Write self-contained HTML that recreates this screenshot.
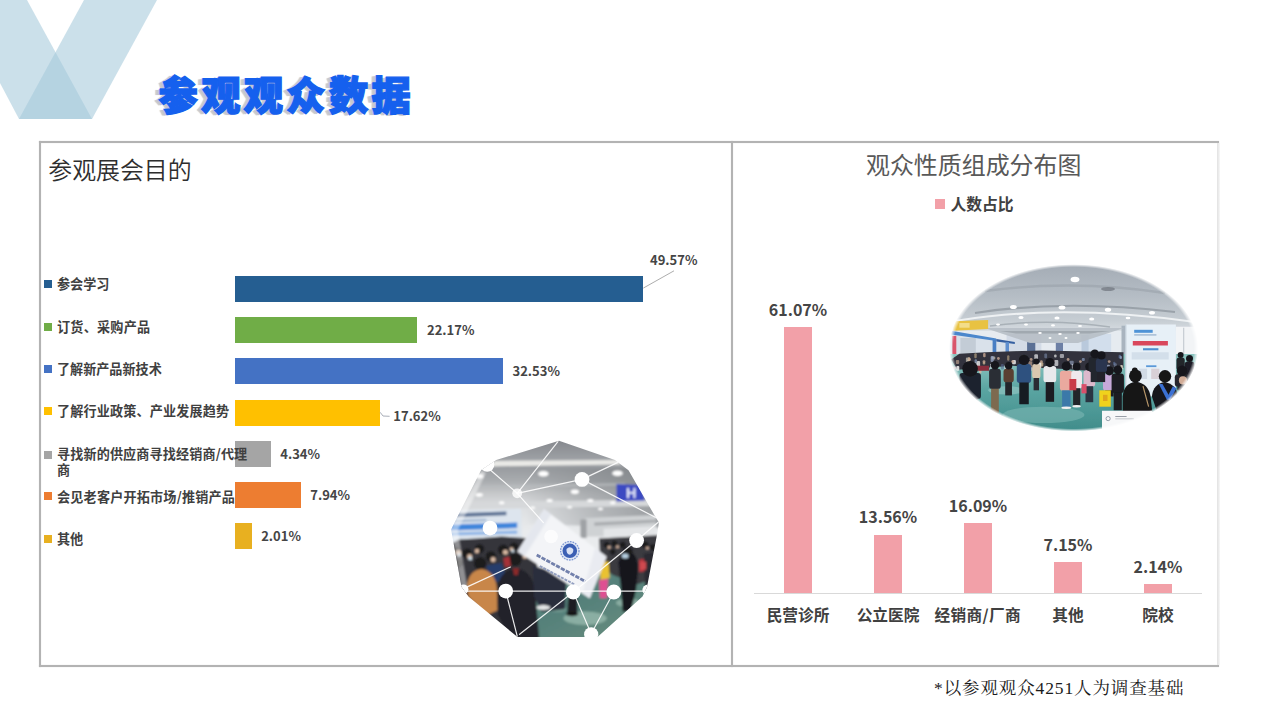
<!DOCTYPE html>
<html lang="zh-CN">
<head>
<meta charset="utf-8">
<title>参观观众数据</title>
<style>
*{box-sizing:border-box;margin:0;padding:0}
html,body{width:1267px;height:713px;overflow:hidden;background:#fff}
body{position:relative;font-family:"Liberation Sans","Noto Sans CJK SC",sans-serif;color:#404040}
.abs{position:absolute}
#deco{position:absolute;left:0;top:0}
#title{position:absolute;left:158.6px;top:63.4px;font-family:"Noto Sans CJK SC","Liberation Sans",sans-serif;font-weight:900;font-size:39.4px;line-height:60px;letter-spacing:3.2px;color:#1560ee;white-space:nowrap;-webkit-text-stroke:1.3px #1560ee;
 text-shadow:-1.5px 0 0 #a9c0ee,-3px .5px 0 #c3c6cc,-4.5px .5px 0 #cbcccf,-5px 1px 1px #d6d7da}
.ln{position:absolute;background:#b3b3b3;box-shadow:0 0 .8px #b3b3b3}

#ltitle{position:absolute;left:48.3px;top:152.2px;font-family:"Noto Sans CJK SC","Liberation Sans",sans-serif;font-weight:350;font-size:23.9px;line-height:34px;color:#2e2e2e;white-space:nowrap}
.bar{position:absolute;left:235.3px;height:26px}
.lg{position:absolute;left:44px;width:8px;height:8px}
.lt{position:absolute;left:57px;font-family:"Noto Sans CJK SC","Liberation Sans",sans-serif;font-weight:700;font-size:13.1px;line-height:17px;color:#404040;white-space:nowrap}
.lv{position:absolute;font-family:"Noto Sans CJK SC","Liberation Sans",sans-serif;font-weight:700;font-size:13px;line-height:18px;color:#454545;white-space:nowrap}
#rtitle{position:absolute;left:866px;top:147.2px;font-family:"Noto Sans CJK SC","Liberation Sans",sans-serif;font-weight:400;font-size:23.95px;line-height:34px;color:#595959;white-space:nowrap}
#rlg{position:absolute;left:934.9px;top:199.4px;width:10px;height:10px;background:#f2a0a8}
#rlt{position:absolute;left:950.4px;top:193.4px;font-family:"Noto Sans CJK SC","Liberation Sans",sans-serif;font-weight:700;font-size:15.8px;line-height:22px;color:#404040;white-space:nowrap}
.vb{position:absolute;width:28px;background:#f2a0a8}
.vv{position:absolute;width:90px;text-align:center;font-family:"Noto Sans CJK SC","Liberation Sans",sans-serif;font-weight:700;font-size:16px;line-height:20px;color:#454545;white-space:nowrap}
.vc{position:absolute;width:110px;text-align:center;top:604px;font-family:"Noto Sans CJK SC","Liberation Sans",sans-serif;font-weight:700;font-size:15.7px;line-height:22px;color:#404040;white-space:nowrap}
#axis{position:absolute;left:754px;top:593px;width:448px;height:1px;background:#d9d9d9}
#foot{position:absolute;left:934px;top:676px;font-family:"Liberation Serif","Noto Serif CJK SC",serif;font-size:17.5px;line-height:24px;color:#1a1a1a;white-space:nowrap;letter-spacing:.88px}
</style>
</head>
<body>
<svg id="deco" width="220" height="130" viewBox="0 0 220 130">
  <polygon points="-44,0 27,0 92,119 19,119" fill="#a6c9da" fill-opacity=".58"/>
  <polygon points="84,0 157,0 92,119 19,119" fill="#a6c9da" fill-opacity=".58"/>
</svg>
<div id="title">参观观众数据</div>
<div class="ln" style="left:38.7px;top:140.7px;width:1180px;height:2.1px"></div>
<div class="ln" style="left:38.7px;top:664.5px;width:1180px;height:2.1px"></div>
<div class="ln" style="left:38.7px;top:140.7px;width:2.1px;height:526px"></div>
<div class="ln" style="left:730.5px;top:140.7px;width:2.2px;height:526px"></div>
<div class="abs" style="left:1217.3px;top:143px;width:3px;height:521.5px;background:linear-gradient(90deg,#e2e2e2,#ececec 55%,#f8f8f8)"></div>
<div id="ltitle">参观展会目的</div>

<!-- left chart bars -->
<div class="bar" style="top:275.6px;width:407.5px;background:#255e91"></div>
<div class="bar" style="top:317.1px;width:182.2px;background:#70ad47"></div>
<div class="bar" style="top:358.4px;width:267.4px;background:#4472c4"></div>
<div class="bar" style="top:399.8px;width:144.8px;background:#ffc000"></div>
<div class="bar" style="top:440.6px;width:35.7px;background:#a5a5a5"></div>
<div class="bar" style="top:482px;width:65.3px;background:#ed7d31"></div>
<div class="bar" style="top:523.2px;width:16.5px;background:#e8b020"></div>

<div class="lg" style="top:280.1px;background:#255e91"></div><div class="lt" style="top:275px">参会学习</div>
<div class="lg" style="top:322.7px;background:#70ad47"></div><div class="lt" style="top:317.6px;letter-spacing:.25px">订货、采购产品</div>
<div class="lg" style="top:364.6px;background:#4472c4"></div><div class="lt" style="top:360px">了解新产品新技术</div>
<div class="lg" style="top:407.2px;background:#ffc000"></div><div class="lt" style="top:402.4px;letter-spacing:.15px">了解行业政策、产业发展趋势</div>
<div class="lg" style="top:450.8px;background:#a5a5a5"></div><div class="lt" style="top:445.6px;white-space:normal;width:194px;line-height:16px;letter-spacing:.13px">寻找新的供应商寻找经销商/代理商</div>
<div class="lg" style="top:492.2px;background:#ed7d31"></div><div class="lt" style="top:488px;letter-spacing:.2px">会见老客户开拓市场/推销产品</div>
<div class="lg" style="top:535.2px;background:#e8b020"></div><div class="lt" style="top:530px">其他</div>

<div class="lv" style="left:650px;top:251px">49.57%</div>
<div class="lv" style="left:427px;top:321.3px">22.17%</div>
<div class="lv" style="left:512.5px;top:361.5px">32.53%</div>
<div class="lv" style="left:393.3px;top:407.3px">17.62%</div>
<div class="lv" style="left:280.3px;top:445px">4.34%</div>
<div class="lv" style="left:310.3px;top:486px">7.94%</div>
<div class="lv" style="left:261.2px;top:527.3px">2.01%</div>
<svg class="abs" style="left:370px;top:260px" width="320" height="170" viewBox="370 260 320 170">
  <line x1="643.3" y1="288.1" x2="674" y2="270.8" stroke="#adadad" stroke-width="1"/>
  <path d="M380.2 412.3 L383 416 L389.6 416.3" fill="none" stroke="#a9aeb8" stroke-width="1"/>
</svg>


<!-- polygon network photo -->
<svg class="abs" style="left:440px;top:430px" width="230" height="215" viewBox="440 430 230 215">
<defs>
<clipPath id="polyclip"><polygon points="559,440.8 614.9,460 628.5,470.3 654.2,514.8 658.9,522.6 657.7,531 647,587 642.5,596.5 597.5,637 517.5,637 468.7,596.7 461.5,586.8 451.1,529.4 481.2,470 496.2,460.1"/></clipPath>
<linearGradient id="ceil1" gradientUnits="userSpaceOnUse" x1="0" y1="440" x2="0" y2="532">
<stop offset="0" stop-color="#85888d"/><stop offset=".22" stop-color="#9fa2a6"/><stop offset=".3" stop-color="#999ca0"/><stop offset=".45" stop-color="#a9acaf"/><stop offset=".58" stop-color="#c6c8ca"/><stop offset=".72" stop-color="#dcdee0"/><stop offset="1" stop-color="#e9ebed"/>
</linearGradient>
<linearGradient id="rdark" gradientUnits="userSpaceOnUse" x1="525" y1="0" x2="650" y2="0"><stop offset="0" stop-color="#7d8185" stop-opacity="0"/><stop offset=".55" stop-color="#7d8185" stop-opacity=".42"/><stop offset="1" stop-color="#74787c" stop-opacity=".62"/></linearGradient>
<linearGradient id="floor1" x1="0" y1="0" x2="1" y2="1"><stop offset="0" stop-color="#7fa096"/><stop offset=".45" stop-color="#54807a"/><stop offset="1" stop-color="#6f917f"/></linearGradient>
<filter id="blur1" x="-5%" y="-5%" width="110%" height="110%"><feGaussianBlur stdDeviation="0.9"/></filter>
</defs>
<g clip-path="url(#polyclip)"><g filter="url(#blur1)">
<rect x="440" y="430" width="230" height="215" fill="url(#ceil1)"/>
<polygon points="520,468 670,468 670,528 520,524" fill="url(#rdark)"/>
<polygon points="494,460.9 617.5,459.9 620.6,464.6 492.5,466.4" fill="#e9e9e6" />
<polygon points="458.5,502.5 656,499.4 656,505.9 455.4,509" fill="#d6d8da" />
<polygon points="470.9,485.6 625.2,483.1 625.2,485.6 470.9,488.6" fill="#b9bcbf" opacity=".7"/>
<ellipse cx="543.4" cy="473.8" rx="5.2" ry="2.8" fill="#ffffff" />
<ellipse cx="617.5" cy="473.2" rx="5.2" ry="2.8" fill="#ffffff" />
<ellipse cx="479.5" cy="476.3" rx="3.7" ry="2.2" fill="#ffffff" />
<ellipse cx="574.9" cy="491.7" rx="4" ry="2.2" fill="#ffffff" />
<ellipse cx="479.2" cy="494.8" rx="3.7" ry="1.9" fill="#ffffff" />
<ellipse cx="549.6" cy="500.4" rx="3.1" ry="1.5" fill="#ffffff" />
<ellipse cx="590.3" cy="500.4" rx="3.1" ry="1.5" fill="#ffffff" />
<ellipse cx="501.7" cy="502.8" rx="2.8" ry="1.5" fill="#ffffff" />
<ellipse cx="612.8" cy="502.8" rx="2.8" ry="1.5" fill="#ffffff" />
<ellipse cx="569.6" cy="507.2" rx="2.5" ry="1.2" fill="#ffffff" />
<ellipse cx="532.6" cy="507.8" rx="2.5" ry="1.2" fill="#ffffff" />
<ellipse cx="600.5" cy="509" rx="2.5" ry="1.2" fill="#ffffff" />
<polygon points="616.5,484 641.2,484.9 644.9,500.4 616.5,501.6" fill="#3a49c2" />
<text x="631.3" y="498" text-anchor="middle" font-family="'Liberation Sans',sans-serif" font-weight="700" font-size="14.5" fill="#e4e8fa">H</text>
<polygon points="585.1,518 656,514.9 656,536.5 585.1,536.5" fill="#cfd2d4" />
<polygon points="594.3,522.6 656,519.5 656,522.6 594.3,525.7" fill="#a9acaf" />
<polygon points="580.4,519.5 586.6,519.5 586.6,538 580.4,538" fill="#9fa2a5" />
<polygon points="603.6,528.8 656,526.3 656,537.4 603.6,537.4" fill="#e4e6e8" />
<polygon points="449.3,510.9 520.9,508.7 522.1,538.6 449.3,541.7" fill="#dde5ee" />
<polygon points="454.8,513.3 506.4,511.5 506.4,515.2 454.8,517.3" fill="#5d7395" />
<polygon points="452.3,520.1 486.3,518.9 486.3,521 452.3,522.6" fill="#9db4d0" />
<polygon points="451.1,524.4 517.2,522.6 517.2,528.1 451.1,530.6" fill="#3f86dc" />
<polygon points="451.1,532.5 517.2,530.6 517.2,533.7 451.1,535.6" fill="#8bb4e6" />
<polygon points="514.1,578.1 662.2,565.8 662.2,646 501.7,646" fill="url(#floor1)" />
<ellipse cx="585.1" cy="618.3" rx="21.6" ry="6.8" fill="#a4c4b8" opacity=".65"/>
<ellipse cx="628.3" cy="602.8" rx="12.3" ry="4.3" fill="#a9c7ba" opacity=".6"/>
<ellipse cx="557.3" cy="609" rx="9.3" ry="3.1" fill="#8fb3a8" opacity=".5"/>
<polygon points="449.3,544.8 458.5,539.6 477,538.6 501.7,536.5 532.6,538.6 538.8,575.1 532.6,615.2 517.2,639.9 467.8,602.8 449.3,590.5" fill="#34343a" />
<circle cx="456" cy="551" r="4.6" fill="#1b1a1d" />
<circle cx="467.2" cy="553.5" r="4.9" fill="#1b1a1d" />
<circle cx="479.5" cy="548.8" r="4.6" fill="#1b1a1d" />
<circle cx="490.9" cy="556.5" r="5.2" fill="#1b1a1d" />
<circle cx="503.3" cy="549.8" r="5.2" fill="#1b1a1d" />
<circle cx="514.1" cy="546.7" r="4.3" fill="#1b1a1d" />
<circle cx="480.1" cy="563.3" r="6.2" fill="#1b1a1d" />
<circle cx="515" cy="559.6" r="6.5" fill="#1b1a1d" />
<circle cx="528" cy="553.5" r="4.3" fill="#1b1a1d" />
<circle cx="459.1" cy="563.3" r="4.3" fill="#1b1a1d" />
<circle cx="458.5" cy="552.8" r="2.5" fill="#d9b9a2" />
<circle cx="469.6" cy="556.5" r="2.5" fill="#d9b9a2" />
<circle cx="493.1" cy="559.6" r="2.5" fill="#d9b9a2" />
<circle cx="505.4" cy="552.2" r="2.5" fill="#d9b9a2" />
<circle cx="477" cy="551" r="2.2" fill="#d9b9a2" />
<circle cx="524.9" cy="556.5" r="2.2" fill="#d9b9a2" />
<circle cx="511.6" cy="549.1" r="1.9" fill="#d9b9a2" />
<circle cx="470.2" cy="558.4" r="1.9" fill="#cfe0ea" />
<circle cx="459.1" cy="554.7" r="1.5" fill="#cfe0ea" />
<circle cx="512.8" cy="551" r="1.5" fill="#cfe0ea" />
<polygon points="486.3,565.8 501.7,562.7 506.4,578.1 490.9,584.3" fill="#283e6c" />
<polygon points="503.3,558.1 509.4,556.5 511,565.8 504.8,567.3" fill="#a53038" />
<path d="M467.2 584.3 Q469.3 570.4 481.7 568.9 Q494.9 571.4 496.8 587.4 L497.4 610.6 L486.3 615.2 L468.4 596.7 Z" fill="#c88648"/>
<path d="M497.4 587.4 Q500.2 570.4 515.6 568.3 Q532 570.7 535.1 590.5 L539.4 639.9 L511 639.9 L498 615.2 Z" fill="#222329"/>
<polygon points="512.8,568.3 519,568.3 517.8,575.1 514.1,575.1" fill="#8d2b2b" />
<polygon points="532.6,565.8 566.5,575.1 565,609 541.9,612.1 534.1,596.7" fill="#2a2f3e" />
<ellipse cx="543.4" cy="607.5" rx="6.8" ry="2.5" fill="#e4e6e6" />
<polygon points="568.1,596.7 577.3,596.7 577.3,613.6 567.2,613.6" fill="#1c1d22" />
<ellipse cx="572.1" cy="614" rx="6.2" ry="2.2" fill="#141417" />
<polygon points="599,538.6 662.2,534.9 662.2,575.1 637.5,584.3 612.8,575.1 600.5,565.8" fill="#3a3a41" />
<circle cx="606.7" cy="544.8" r="3.1" fill="#1c1b1f" />
<circle cx="614.4" cy="543.6" r="3.1" fill="#1c1b1f" />
<circle cx="622.7" cy="544.8" r="3.1" fill="#1c1b1f" />
<circle cx="645.2" cy="544.8" r="3.4" fill="#1c1b1f" />
<circle cx="653" cy="547.3" r="3.4" fill="#1c1b1f" />
<circle cx="612.8" cy="551.9" r="2.8" fill="#1c1b1f" />
<circle cx="609.1" cy="547.3" r="1.5" fill="#d8b6a0" />
<circle cx="617.5" cy="546.7" r="1.5" fill="#d8b6a0" />
<circle cx="647.4" cy="547.9" r="1.5" fill="#d8b6a0" />
<polygon points="639.1,559.6 653,558.1 653,570.4 639.1,572" fill="#b8353e" />
<polygon points="643.7,553.5 662.2,551.9 662.2,590.5 645.2,592" fill="#2a2a30" />
<polygon points="640,562.1 646.2,561.5 646.2,569.5 640,570.1" fill="#cf4850" />
<path d="M618.4 562.7 Q620.6 551.9 628.9 551 Q637.5 553.5 638.1 568.9 L636 590.5 L630.7 611.5 L622.7 611.5 L620.6 584.3 Z" fill="#17171b"/>
<circle cx="627.7" cy="551.9" r="5.2" fill="#1a1a1e" />
<ellipse cx="625.2" cy="555.9" rx="3.4" ry="2.5" fill="#b7d0e2" />
<polygon points="599.9,562.7 608.5,561.2 609.8,578.1 600.5,580" fill="#e9c233" />
<polygon points="599,580 608.2,578.8 606.7,598.2 599.9,598.2" fill="#df4f92" />
<circle cx="604.2" cy="559" r="2.8" fill="#2a2023" />
<polygon points="544,509.1 606.6,556.7 589.7,598.2 517.5,551.5" fill="#f3f4f7" />
<polygon points="544,509.1 551,514.5 524.5,556.5 517.5,551.5" fill="#e4e7ee" />
<polygon points="595,548 606.6,556.7 589.7,598.2 582.5,593.5" fill="#e9ebf1" />
</g>
<polygon points="451,529 481.4,470 486,473 458,530 468,590 461,587" fill="#ffffff" opacity=".45" filter="url(#blur1)"/>
<circle cx="569.8" cy="550.8" r="10" fill="#dfe6f5"/><circle cx="569.8" cy="550.8" r="9.2" fill="none" stroke="#7f98d2" stroke-width="1.3" stroke-dasharray="1.6 1.1"/><circle cx="569.8" cy="550.8" r="7.3" fill="#3b5fb4"/>

<path d="M566.5 549 Q569.8 545.5 573.2 549 Q574 553 570 554.8 Q566 554 566.5 549Z" fill="#d9e1f4"/>
<line x1="536.7" y1="555" x2="585.3" y2="581.4" stroke="#5b6c9e" stroke-width="2.8" stroke-dasharray="4.3 1.2" opacity=".85"/>
<line x1="539.8" y1="566" x2="574.2" y2="584.3" stroke="#8391b8" stroke-width="1.9" stroke-dasharray="3 1" opacity=".85"/>
<g stroke="#ffffff" stroke-width="1.2" fill="none" stroke-linecap="round" opacity=".9">
<line x1="557.9" y1="441.7" x2="517.2" y2="493.3"/>
<line x1="486.9" y1="467" x2="517.2" y2="493.3"/>
<line x1="517.2" y1="493.3" x2="543.4" y2="522.6"/>
<line x1="517.2" y1="493.3" x2="582" y2="479.4"/>
<line x1="582" y1="479.4" x2="618.4" y2="462.1"/>
<line x1="582" y1="479.4" x2="656.7" y2="518"/>
<line x1="461.6" y1="591.1" x2="653.6" y2="591.1"/>
<line x1="505.7" y1="591.1" x2="517.2" y2="636.2"/>
<line x1="573.3" y1="592" x2="519.6" y2="634.3"/>
<line x1="573.3" y1="592" x2="591.2" y2="633.7"/>
<line x1="613.8" y1="592" x2="591.2" y2="633.7"/>
<line x1="636.6" y1="540.5" x2="573.3" y2="592"/>
<line x1="466.2" y1="587.4" x2="510.4" y2="567"/>
<line x1="636.6" y1="540.5" x2="658.5" y2="522"/>
</g><g fill="#ffffff">
<circle cx="582" cy="479.4" r="7.4" fill="#ffffff" opacity="1"/>
<circle cx="517.2" cy="493.3" r="4.9" fill="#ffffff" opacity="0.8"/>
<circle cx="490" cy="528.1" r="7.4" fill="#ffffff" opacity="1"/>
<circle cx="636.6" cy="540.5" r="7.4" fill="#ffffff" opacity="1"/>
<circle cx="505.7" cy="591.1" r="7.4" fill="#ffffff" opacity="1"/>
<circle cx="573.3" cy="592" r="7.4" fill="#ffffff" opacity="1"/>
<circle cx="613.8" cy="592" r="7.4" fill="#ffffff" opacity="1"/>
<circle cx="591.2" cy="634.3" r="7.1" fill="#ffffff" opacity="1"/>
<circle cx="487.2" cy="464.6" r="7.2" fill="#ffffff"/>
<circle cx="551.1" cy="536.5" r="6.8" fill="#ffffff" opacity="0.75"/>
<circle cx="463.5" cy="589.3" r="4.9" fill="#ffffff" opacity="1"/>
<circle cx="647.8" cy="590" r="5.4" fill="#ffffff"/>
</g></g></svg>

<!-- right chart -->
<div id="rtitle">观众性质组成分布图</div>
<div id="rlg"></div><div id="rlt">人数占比</div>
<div id="axis"></div>
<div class="vb" style="left:784px;top:327px;height:266px"></div>
<div class="vb" style="left:874px;top:535px;height:58px"></div>
<div class="vb" style="left:964px;top:523px;height:70px"></div>
<div class="vb" style="left:1054px;top:562px;height:31px"></div>
<div class="vb" style="left:1144px;top:584px;height:9px"></div>
<div class="vv" style="left:753px;top:299px">61.07%</div>
<div class="vv" style="left:843px;top:506px">13.56%</div>
<div class="vv" style="left:933px;top:495px">16.09%</div>
<div class="vv" style="left:1023px;top:534px">7.15%</div>
<div class="vv" style="left:1113px;top:556px">2.14%</div>
<div class="vc" style="left:743px">民营诊所</div>
<div class="vc" style="left:833px">公立医院</div>
<div class="vc" style="left:922.8px;letter-spacing:.35px">经销商/厂商</div>
<div class="vc" style="left:1013px">其他</div>
<div class="vc" style="left:1103px">院校</div>


<!-- ellipse photo -->
<svg class="abs" style="left:940px;top:255px" width="270" height="185" viewBox="940 255 270 185">
<defs>
<radialGradient id="emask" cx=".5" cy=".5" r=".5"><stop offset="0" stop-color="#fff"/><stop offset=".965" stop-color="#fff"/><stop offset="1" stop-color="#000"/></radialGradient>
<mask id="ellmask"><ellipse cx="1073.6" cy="347.8" rx="124.6" ry="83.6" fill="url(#emask)"/></mask>
<linearGradient id="ceil2" gradientUnits="userSpaceOnUse" x1="0" y1="262" x2="0" y2="340">
<stop offset="0" stop-color="#a3abb4"/><stop offset=".4" stop-color="#b3bbc3"/><stop offset=".75" stop-color="#c6cdd3"/><stop offset="1" stop-color="#e4e8ec"/></linearGradient>
<linearGradient id="floor2" gradientUnits="userSpaceOnUse" x1="0" y1="360" x2="0" y2="432"><stop offset="0" stop-color="#8cc4c0"/><stop offset=".4" stop-color="#5ba5a2"/><stop offset="1" stop-color="#3f8c8a"/></linearGradient>
<filter id="blur2" x="-5%" y="-5%" width="110%" height="110%"><feGaussianBlur stdDeviation=".75"/></filter>
</defs>
<g mask="url(#ellmask)"><g filter="url(#blur2)">
<rect x="940" y="255" width="270" height="110" fill="url(#ceil2)"/>
<path d="M955 321 Q1060 303 1195 322" stroke="#eef1f3" stroke-width="2.2" fill="none"/>
<path d="M975 313 Q1065 299 1175 312" stroke="#8d959d" stroke-width="2.2" fill="none" opacity=".75"/>
<path d="M990 326 Q1050 318 1110 327" stroke="#9aa2aa" stroke-width="1.6" fill="none" opacity=".7"/>
<path d="M985 291 Q1075 279 1165 293" stroke="#969ea6" stroke-width="2.4" fill="none" opacity=".5"/>
<ellipse cx="1108" cy="289" rx="7" ry="2" fill="#6d747c" opacity=".7"/>
<ellipse cx="1075" cy="279.5" rx="4.4" ry="2.7" fill="#fff"/>
<ellipse cx="1013.4" cy="307" rx="3.4" ry="2" fill="#fff"/>
<ellipse cx="1062" cy="307.6" rx="3.4" ry="2" fill="#fff"/>
<ellipse cx="1108" cy="309.7" rx="3.2" ry="2" fill="#fff"/>
<ellipse cx="1021" cy="317.6" rx="2.6" ry="1.5" fill="#fff"/>
<ellipse cx="1057" cy="318" rx="2.6" ry="1.5" fill="#fff"/>
<ellipse cx="1091.7" cy="319" rx="2.6" ry="1.5" fill="#fff"/>
<ellipse cx="1152" cy="312.8" rx="3" ry="1.8" fill="#fff"/>
<ellipse cx="998" cy="324.6" rx="2" ry="1.1" fill="#fff"/>
<ellipse cx="1026" cy="324.6" rx="2" ry="1.1" fill="#fff"/>
<ellipse cx="1053" cy="325.4" rx="2" ry="1.1" fill="#fff"/>
<ellipse cx="1080" cy="326" rx="2" ry="1.1" fill="#fff"/>
<ellipse cx="1128" cy="318" rx="2.4" ry="1.3" fill="#fff"/>
<polygon points="945,330.8 1211.8,330.8 1211.8,361.6 945,361.6" fill="#e6ebf0" />
<polygon points="1006.6,333.9 1041.4,333.9 1041.4,351.3 1006.6,351.3" fill="#d3dbe6" />
<polygon points="1086.6,333.9 1111.2,333.9 1111.2,355.4 1086.6,355.4" fill="#d2deec" />
<polygon points="1059.9,339 1086.6,339 1086.6,353.4 1059.9,353.4" fill="#dbe4ee" />
<polygon points="1027.1,342.1 1035.3,342.1 1035.3,351.3 1027.1,351.3" fill="#5a6f95" />
<polygon points="1055.8,342.1 1063,342.1 1063,351.3 1055.8,351.3" fill="#6d80a5" />
<polygon points="1081.5,334.9 1088.6,334.9 1088.6,355.4 1081.5,355.4" fill="#b9c9dc" />
<polygon points="1121.5,325.7 1126.6,325.7 1126.6,367.7 1121.5,367.7" fill="#a9b4bf" />
<polygon points="985,328 1124,328 1078,343 1030,343" fill="#b7bfc7" opacity=".92"/>
<polygon points="1000,331 1110,331 1090,333.5 1016,333.5" fill="#8f979f" opacity=".6"/>
<ellipse cx="1040" cy="333" rx="1.8" ry="1" fill="#fff"/><ellipse cx="1060" cy="334" rx="1.8" ry="1" fill="#fff"/><ellipse cx="1078" cy="333" rx="1.8" ry="1" fill="#fff"/><ellipse cx="1050" cy="338" rx="1.5" ry=".9" fill="#fff"/><ellipse cx="1066" cy="338" rx="1.5" ry=".9" fill="#fff"/>
<polygon points="949.1,330.8 1006.6,341 1006.6,353.8 949.1,359.5" fill="#d9e1ea" />
<polygon points="951.2,330.8 996.3,338.6 996.3,341 951.2,334.5" fill="#4c87cc" />
<polygon points="996.3,339 1014.8,342.1 1014.8,343.9 996.3,341.5" fill="#345fa0" />
<polygon points="952.2,335.9 956.3,335.9 956.3,357.5 952.2,357.5" fill="#d9566c" />
<polygon points="992.6,340 996.3,340 996.3,354.4 992.6,354.4" fill="#4a7fc4" />
<polygon points="960.4,338 975.8,338 975.8,353.8 960.4,353.8" fill="#c3ccd6" />
<polygon points="1005.5,342.1 1009,342.1 1009,353.8 1005.5,353.8" fill="#5f8fcf" />
<polygon points="953.2,321.3 988.1,320.1 988.1,329.1 953.2,330.8" fill="#e8c243" />
<polygon points="959.4,323 969.6,323 969.6,327.7 959.4,327.7" fill="#f3dd8a" />
<polygon points="1175.9,326.7 1203.6,326.7 1203.6,361.6 1175.9,361.6" fill="#f2f4f6" />
<polygon points="1183,327.7 1184.3,327.7 1184.3,361.6 1183,361.6" fill="#c9cfd5" />
<rect x="940" y="354" width="270" height="90" fill="url(#floor2)"/>
<ellipse cx="1043.5" cy="414.9" rx="41" ry="8.2" fill="#7fbab6" opacity=".55"/>
<ellipse cx="1006.6" cy="390.3" rx="18.5" ry="4.1" fill="#a5d2ce" opacity=".5"/>
<polygon points="951.2,359.5 959.4,353.8 986,352.3 1012.7,351.3 1041.4,350.5 1076.3,351.3 1123.5,352.3 1123.5,367.7 1088.6,370.8 1059.9,368.7 1035.3,367.7 1012.7,365.7 986,367.7 957.3,369.8" fill="#30323c" />
<rect x="1007.1" y="355.3" width="2.3" height="5.4" rx="1" fill="#c9b08e" opacity="0.58"/>
<rect x="1051.1" y="366.6" width="2.3" height="4.0" rx="1" fill="#9aa7c4" opacity="0.57"/>
<rect x="967.4" y="359.4" width="2.4" height="3.3" rx="1" fill="#f0f0f0" opacity="0.77"/>
<rect x="1113.1" y="361.7" width="2.3" height="3.3" rx="1" fill="#56688f" opacity="0.74"/>
<rect x="974.6" y="359.3" width="2.4" height="3.6" rx="1" fill="#7a8aa8" opacity="0.84"/>
<rect x="982.7" y="361.7" width="2.6" height="2.8" rx="1" fill="#c9b08e" opacity="0.80"/>
<rect x="1047.9" y="362.3" width="3.6" height="4.0" rx="1" fill="#d9d3c2" opacity="0.66"/>
<rect x="1051.5" y="359.8" width="2.7" height="3.1" rx="1" fill="#b04a58" opacity="0.82"/>
<rect x="965.9" y="357.5" width="4.0" height="5.1" rx="1" fill="#d9d3c2" opacity="0.65"/>
<rect x="1118.6" y="354.8" width="2.5" height="3.7" rx="1" fill="#56688f" opacity="0.88"/>
<rect x="1023.7" y="367.4" width="3.7" height="4.5" rx="1" fill="#e6e6ea" opacity="0.86"/>
<rect x="1005.3" y="363.4" width="3.2" height="5.3" rx="1" fill="#f0f0f0" opacity="0.57"/>
<rect x="967.9" y="357.0" width="2.3" height="5.1" rx="1" fill="#c9b08e" opacity="0.66"/>
<rect x="1050.3" y="363.2" width="2.8" height="3.9" rx="1" fill="#d9d3c2" opacity="0.78"/>
<rect x="955.8" y="359.9" width="3.4" height="4.2" rx="1" fill="#caa995" opacity="0.63"/>
<rect x="1000.9" y="364.1" width="3.0" height="5.5" rx="1" fill="#56688f" opacity="0.58"/>
<rect x="1028.4" y="361.2" width="3.8" height="5.5" rx="1" fill="#caa995" opacity="0.65"/>
<rect x="1022.6" y="358.4" width="4.1" height="3.0" rx="1" fill="#56688f" opacity="0.61"/>
<rect x="991.4" y="356.5" width="3.9" height="3.1" rx="1" fill="#d9d3c2" opacity="0.65"/>
<rect x="976.8" y="361.0" width="3.3" height="5.8" rx="1" fill="#f0f0f0" opacity="0.79"/>
<rect x="1039.6" y="362.3" width="3.7" height="4.1" rx="1" fill="#c9b08e" opacity="0.85"/>
<rect x="1113.8" y="363.2" width="3.0" height="3.9" rx="1" fill="#7a8aa8" opacity="0.59"/>
<rect x="1059.8" y="353.9" width="4.2" height="4.0" rx="1" fill="#e6e6ea" opacity="0.59"/>
<rect x="1054.1" y="354.5" width="2.5" height="2.9" rx="1" fill="#f0f0f0" opacity="0.68"/>
<rect x="956.3" y="366.1" width="3.0" height="4.7" rx="1" fill="#f0f0f0" opacity="0.88"/>
<rect x="1054.4" y="360.1" width="3.9" height="6.0" rx="1" fill="#e6e6ea" opacity="0.71"/>
<rect x="1034.3" y="354.3" width="3.7" height="5.1" rx="1" fill="#e6e6ea" opacity="0.72"/>
<rect x="1069.6" y="360.7" width="4.1" height="4.3" rx="1" fill="#9aa7c4" opacity="0.60"/>
<rect x="1044.3" y="353.4" width="2.8" height="4.8" rx="1" fill="#7a8aa8" opacity="0.58"/>
<rect x="1095.7" y="360.8" width="2.9" height="3.3" rx="1" fill="#caa995" opacity="0.74"/>
<rect x="1037.5" y="362.5" width="3.8" height="5.9" rx="1" fill="#f0f0f0" opacity="0.85"/>
<rect x="1089.0" y="365.3" width="2.6" height="4.2" rx="1" fill="#9aa7c4" opacity="0.81"/>
<rect x="1120.2" y="364.9" width="2.7" height="4.9" rx="1" fill="#d9d3c2" opacity="0.88"/>
<rect x="1028.0" y="367.1" width="4.1" height="3.8" rx="1" fill="#e2c2cc" opacity="0.63"/>
<rect x="990.6" y="356.0" width="3.2" height="5.9" rx="1" fill="#9aa7c4" opacity="0.76"/>
<rect x="952.3" y="366.6" width="3.8" height="2.8" rx="1" fill="#e2c2cc" opacity="0.78"/>
<rect x="1106.7" y="364.7" width="3.2" height="3.1" rx="1" fill="#9aa7c4" opacity="0.83"/>
<rect x="1008.5" y="365.0" width="3.1" height="5.1" rx="1" fill="#56688f" opacity="0.58"/>
<rect x="979.0" y="367.9" width="2.5" height="5.7" rx="1" fill="#d7b7a2" opacity="0.83"/>
<rect x="976.8" y="365.4" width="3.5" height="3.7" rx="1" fill="#d9d3c2" opacity="0.74"/>
<rect x="974.3" y="353.2" width="2.4" height="5.1" rx="1" fill="#c9b08e" opacity="0.60"/>
<rect x="1119.7" y="355.9" width="2.3" height="3.2" rx="1" fill="#9aa7c4" opacity="0.73"/>
<rect x="1081.8" y="357.9" width="3.0" height="3.0" rx="1" fill="#7a8aa8" opacity="0.87"/>
<rect x="1012.1" y="359.9" width="3.8" height="4.3" rx="1" fill="#f0f0f0" opacity="0.84"/>
<rect x="1101.3" y="355.0" width="3.2" height="2.6" rx="1" fill="#caa995" opacity="0.70"/>
<rect x="983.1" y="353.1" width="2.5" height="4.2" rx="1" fill="#caa995" opacity="0.80"/>
<circle cx="969.6" cy="359.5" r="1.4" fill="#caa995" opacity=".8"/>
<circle cx="984" cy="361.6" r="1.4" fill="#caa995" opacity=".8"/>
<circle cx="998.4" cy="358.5" r="1.4" fill="#caa995" opacity=".8"/>
<circle cx="1012.7" cy="361.6" r="1.4" fill="#caa995" opacity=".8"/>
<circle cx="1031.2" cy="359.5" r="1.4" fill="#caa995" opacity=".8"/>
<circle cx="1041.4" cy="361.6" r="1.4" fill="#caa995" opacity=".8"/>
<circle cx="1068.1" cy="359.5" r="1.4" fill="#caa995" opacity=".8"/>
<circle cx="1080.4" cy="361.6" r="1.4" fill="#caa995" opacity=".8"/>
<circle cx="1096.9" cy="359.5" r="1.4" fill="#caa995" opacity=".8"/>
<circle cx="1109.2" cy="361.6" r="1.4" fill="#caa995" opacity=".8"/>
<polygon points="973.7,362.6 977.8,362.6 977.8,367.1 973.7,367.1" fill="#d8dce4" opacity=".75"/>
<polygon points="990.1,364 994.3,364 994.3,368.5 990.1,368.5" fill="#d8dce4" opacity=".75"/>
<polygon points="1004.5,365.3 1008.6,365.3 1008.6,369.8 1004.5,369.8" fill="#d8dce4" opacity=".75"/>
<polygon points="1035.3,364.6 1039.4,364.6 1039.4,369.2 1035.3,369.2" fill="#d8dce4" opacity=".75"/>
<polygon points="1072.2,364 1076.3,364 1076.3,368.5 1072.2,368.5" fill="#d8dce4" opacity=".75"/>
<polygon points="1090.7,365.3 1094.8,365.3 1094.8,369.8 1090.7,369.8" fill="#d8dce4" opacity=".75"/>
<polygon points="975.8,365.7 989.1,365.7 989.1,370.8 975.8,370.8" fill="#8a2f3c" />
<polygon points="1125.6,324.6 1175.9,324.6 1175.9,396.4 1125.6,396.4" fill="#e7f0f7" />
<polygon points="1125.2,324.6 1126.4,324.6 1126.4,396.4 1125.2,396.4" fill="#c5d0da" />
<polygon points="1134.2,329.8 1152.7,329.8 1152.7,332.8 1134.2,332.8" fill="#4f93d6" />
<polygon points="1134.2,334.1 1156.4,334.1 1156.4,335.7 1134.2,335.7" fill="#a9bfd6" />
<polygon points="1132.8,341 1167.9,341 1167.9,345.4 1132.8,345.4" fill="#d9475c" />
<polygon points="1143,348.2 1158.4,348.2 1158.4,350.3 1143,350.3" fill="#4f8fd0" />
<polygon points="1131.7,352.3 1168.7,352.3 1168.7,359.5 1131.7,359.5" fill="#d3dfea" />
<polygon points="1146.1,365.3 1156.4,365.3 1156.4,367.1 1146.1,367.1" fill="#5a98d8" />
<polygon points="1138.9,368.7 1147.1,368.7 1147.1,379 1138.9,379" fill="#d1dbe6" />
<polygon points="1151.2,368.7 1159.4,368.7 1159.4,379 1151.2,379" fill="#d8d0d6" />
<rect x="1176.5" y="357.5" width="8.2085" height="12.8127" rx="2.73617" fill="#23252c"/>
<rect x="1177.9" y="369.8" width="5.41761" height="8.2085" fill="#23252c"/>
<circle cx="1180.6" cy="355" r="3" fill="#17171b" />
<rect x="1184.7" y="361.6" width="9.64498" height="14.8649" rx="3" fill="#1d1f26"/>
<rect x="1186.3" y="375.9" width="6.36569" height="6.15637" fill="#1d1f26"/>
<circle cx="1189.5" cy="358.5" r="3.5" fill="#17171b" />
<rect x="1174.8" y="374.3" width="14.3649" height="12.4023" rx="3" fill="#26272e"/>
<rect x="1177.3" y="386.2" width="9.48081" height="4.10425" fill="#26272e"/>
<circle cx="1182" cy="370.8" r="5.2" fill="#17171b" />
<circle cx="1183" cy="380.4" r="4.1" fill="#d2ad98" />
<rect x="959.4" y="372.9" width="21.5473" height="26.1515" rx="3" fill="#1c222d"/>
<rect x="963" y="398.5" width="14.2212" height="2.05212" fill="#1c222d"/>
<circle cx="970.1" cy="368.7" r="7.8" fill="#17171b" />
<rect x="989.1" y="368.7" width="11.6971" height="20.4056" rx="3" fill="#2a2d36"/>
<rect x="991.1" y="388.7" width="7.72009" height="24.2151" fill="#7d6a4f"/>
<circle cx="995" cy="365.3" r="4.2" fill="#17171b" />
<rect x="1003.5" y="368.7" width="10.2606" height="13.8388" rx="3" fill="#5a4030"/>
<rect x="1005.2" y="382.1" width="6.77201" height="13.3388" fill="#24262c"/>
<circle cx="1008.6" cy="365.7" r="3.7" fill="#17171b" />
<rect x="1016.8" y="364" width="14.3649" height="18.9691" rx="3" fill="#2f517f"/>
<rect x="1019.3" y="382.5" width="9.48081" height="21.7525" fill="#191b20"/>
<circle cx="1024" cy="359.9" r="5.2" fill="#17171b" />
<rect x="1043.5" y="366.1" width="12.7232" height="16.5066" rx="3" fill="#e9e9ec"/>
<rect x="1045.7" y="382.1" width="8.39729" height="19.7004" fill="#1b1c21"/>
<circle cx="1049.9" cy="362.6" r="4.6" fill="#17171b" />
<rect x="1059.9" y="370.8" width="12.7232" height="19.9952" rx="3" fill="#eaa99f"/>
<rect x="1062.1" y="390.3" width="8.39729" height="16.8274" fill="#3b79a9"/>
<circle cx="1066.3" cy="366.1" r="4.6" fill="#17171b" />
<ellipse cx="1066.3" cy="407.7" rx="5" ry="1.2" fill="#f1f1f1" />
<rect x="1071.2" y="370.8" width="10.8763" height="17.9431" rx="3" fill="#efe9ec"/>
<rect x="1073.1" y="388.2" width="7.17833" height="17.4431" fill="#24252b"/>
<circle cx="1076.6" cy="366.7" r="3.9" fill="#17171b" />
<ellipse cx="1076.6" cy="406.3" rx="4.3" ry="1.2" fill="#efefef" />
<polygon points="1069.4,379 1076.3,379 1076.3,390.3 1069.4,390.3" fill="#c93a4a" />
<rect x="1083.5" y="370.2" width="11.6971" height="16.5066" rx="3" fill="#dcb9cc"/>
<rect x="1085.5" y="386.2" width="7.72009" height="16.0066" fill="#2a3442"/>
<circle cx="1089.4" cy="366.7" r="4.2" fill="#17171b" />
<polygon points="1081.5,384.1 1086.6,384.1 1086.6,393.4 1081.5,393.4" fill="#d8506a" />
<rect x="1103" y="374.3" width="12.7232" height="16.5066" rx="3" fill="#c7a9d9"/>
<rect x="1105.2" y="390.3" width="8.39729" height="6.15637" fill="#1c1d22"/>
<circle cx="1109.4" cy="370.8" r="4.6" fill="#17171b" />
<rect x="1111.6" y="373.5" width="12.3127" height="19.3795" rx="3" fill="#1a1b20"/>
<rect x="1113.7" y="392.3" width="8.12641" height="18.0587" fill="#1a1b20"/>
<circle cx="1117.8" cy="369.8" r="4.4" fill="#17171b" />
<rect x="1032.2" y="364" width="8.2085" height="14.4544" rx="2.73617" fill="#d9c7b0"/>
<rect x="1033.6" y="378" width="5.41761" height="12.3127" fill="#2a2b31"/>
<circle cx="1036.3" cy="361.6" r="3" fill="#17171b" />
<rect x="1088.6" y="357" width="12.3127" height="15.2753" rx="3" fill="#23262e"/>
<rect x="1090.7" y="371.8" width="8.12641" height="10.2606" fill="#23262e"/>
<circle cx="1094.8" cy="353.8" r="4.4" fill="#17171b" />
<rect x="1095.8" y="358.5" width="11.2867" height="13.8388" rx="3" fill="#2a3550"/>
<rect x="1097.7" y="371.8" width="7.44921" height="10.2606" fill="#20222a"/>
<circle cx="1101.5" cy="355.4" r="4.1" fill="#17171b" />
<polygon points="1099.3,390.3 1110.8,390.3 1110.8,406.7 1099.3,406.7" fill="#f0d21e" />
<polygon points="1103,394.8 1107.5,394.8 1107.5,401 1103,401" fill="#e0a51a" />
<path d="M1122.7 396.4 Q1123.9 383.1 1135.8 381.7 Q1148.2 383.1 1150.6 396.4 L1152.3 411.8 L1122.7 411.8 Z" fill="#141519"/>
<circle cx="1135.4" cy="375.9" r="6.4" fill="#131317" />
<circle cx="1134.8" cy="370.4" r="2.9" fill="#131317" />
<line x1="1143" y1="386.2" x2="1148.6" y2="406.7" stroke="#b89868" stroke-width="1.2"/>
<path d="M1151.9 396.4 Q1153.3 383.7 1165 382.1 Q1176.5 384.1 1177.9 396.4 L1170.7 402.6 L1156.4 409.8 Z" fill="#16171c"/>
<circle cx="1165" cy="376.3" r="6.2" fill="#141418" />
<polygon points="1158.8,384.1 1162.5,384.1 1170.7,398.5 1167,400.1" fill="#3a6fd2" />
<polygon points="1172.8,386.2 1176.5,388.2 1169.7,400.6 1166.6,398.5" fill="#3a6fd2" />
<polygon points="1102,410.8 1152.3,410.8 1152.3,431.3 1102,431.3" fill="#f7f8f9" />
</g>
<circle cx="1108.1" cy="418.6" r="2.1" fill="none" stroke="#7d8a98" stroke-width=".8"/>
<polygon points="1115.3,416.2 1126.6,416.2 1126.6,417 1115.3,417" fill="#7f8792" />
<polygon points="1115.3,418.6 1133.8,418.6 1133.8,419.2 1115.3,419.2" fill="#a0a6ae" />
</g></svg>

<div id="foot">*以参观观众4251人为调查基础</div>
</body>
</html>
